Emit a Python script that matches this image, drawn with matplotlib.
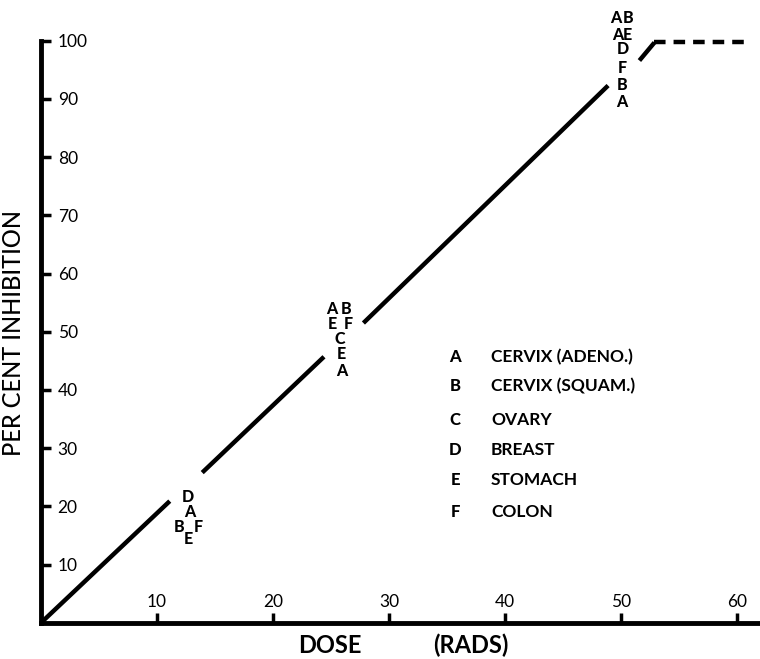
import matplotlib
matplotlib.use('Agg')
import matplotlib.pyplot as plt

plt.rcParams['font.family'] = ['Lato', 'DejaVu Sans']

# dose-response line, drawn in pieces (gaps where the letters sit)
seg_x = [[0, 11.1], [13.9, 24.4], [27.8, 48.9], [51.6, 52.9]]
seg_y = [[0, 20.9], [25.8, 45.7], [51.5, 92.3], [96.6, 99.7]]
plateau_x = [52.9, 60.6]
plateau_y = [99.7, 99.7]

# tumour letters around the line
pt_letters = ['D', 'A', 'B', 'F', 'E',
              'A', 'B', 'E', 'F', 'C', 'E', 'A',
              'A', 'B', 'A', 'E', 'D', 'F', 'B', 'A']
pt_x = [12.7, 12.8, 11.9, 13.6, 12.7,
        25.1, 26.3, 25.1, 26.5, 25.8, 25.9, 25.9,
        49.6, 50.6, 49.7, 50.6, 50.2, 50.1, 50.1, 50.1]
pt_y = [21.6, 19.1, 16.5, 16.5, 14.4,
        53.9, 53.9, 51.3, 51.3, 48.7, 46.1, 43.3,
        103.9, 103.9, 101.0, 101.0, 98.5, 95.4, 92.4, 89.4]

# key
key_letters = ['A', 'B', 'C', 'D', 'E', 'F']
key_names = ['CERVIX (ADENO.)', 'CERVIX (SQUAM.)', 'OVARY', 'BREAST', 'STOMACH', 'COLON']
key_y = [45.7, 40.7, 34.9, 29.6, 24.6, 19.1]

xticks = [10, 20, 30, 40, 50, 60]
yticks = [10, 20, 30, 40, 50, 60, 70, 80, 90, 100]

fig = plt.figure(figsize=(7.6, 6.59), dpi=100)
ax = fig.add_axes([0.054, 0.055, 0.946, 0.945])

for xs, ys in zip(seg_x, seg_y):
    ax.plot(xs, ys, color='black', lw=3.2, solid_capstyle='butt')
ax.plot(plateau_x, plateau_y, color='black', lw=3.2, dashes=(2.6, 1.8),
        dash_capstyle='butt')

for s, x, y in zip(pt_letters, pt_x, pt_y):
    ax.text(x, y, s, ha='center', va='center', fontsize=11.5,
            fontweight='black', clip_on=False)

for s, name, y in zip(key_letters, key_names, key_y):
    ax.text(35.7, y, s, ha='center', va='center', fontsize=12, fontweight='black')
    ax.text(38.8, y, name, ha='left', va='center', fontsize=12.5,
            fontweight='bold')

ax.set_xlim(0, 62)
ax.set_ylim(0, 107)
ax.spines['top'].set_visible(False)
ax.spines['right'].set_visible(False)
ax.spines['left'].set_linewidth(3.5)
ax.spines['bottom'].set_linewidth(3.5)
ax.spines['left'].set_bounds(0, 100)

ax.set_xticks(xticks)
ax.set_yticks(yticks)
ax.tick_params(axis='both', direction='in', length=7, width=2.5, labelsize=12.5)
ax.tick_params(axis='y', pad=-12)
ax.tick_params(axis='x', pad=-9)
for lab in ax.get_yticklabels():
    lab.set_horizontalalignment('left')
for lab in ax.get_xticklabels():
    lab.set_verticalalignment('bottom')

ax.set_ylabel('PER CENT INHIBITION', fontsize=17, fontweight='medium')
ax.yaxis.set_label_coords(-0.023, 0.465)
ax.set_xlabel('DOSE', fontsize=17, fontweight='bold')
ax.xaxis.set_label_coords(0.402, -0.018)
ax.text(0.598, -0.018, '(RADS)', transform=ax.transAxes, ha='center', va='top',
        fontsize=17, fontweight='bold')

fig.savefig('out.png', dpi=100)
